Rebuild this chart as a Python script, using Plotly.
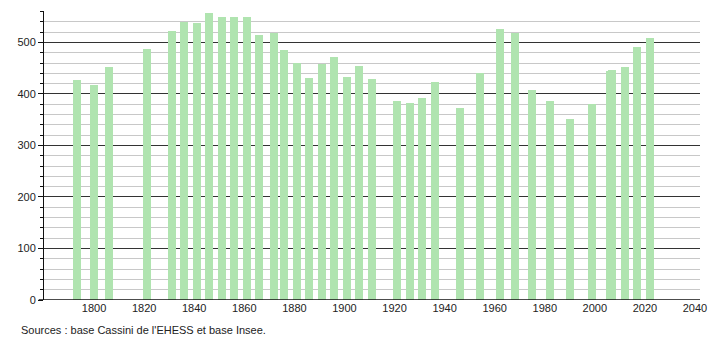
import plotly.graph_objects as go

years = [1793, 1800, 1806, 1821, 1831, 1836, 1841, 1846, 1851, 1856, 1861, 1866, 1872,
         1876, 1881, 1886, 1891, 1896, 1901, 1906, 1911, 1921, 1926, 1931, 1936, 1946,
         1954, 1962, 1968, 1975, 1982, 1990, 1999, 2006, 2007, 2012, 2017, 2022]
population = [427, 417, 452, 487, 522, 540, 538, 557, 550, 550, 550, 515, 518,
              485, 461, 431, 458, 472, 433, 454, 429, 386, 382, 392, 423, 373,
              441, 526, 518, 408, 386, 351, 381, 444, 446, 452, 491, 509]
x_ticks = [1800, 1820, 1840, 1860, 1880, 1900, 1920, 1940, 1960, 1980, 2000, 2020, 2040]
y_ticks = [0, 100, 200, 300, 400, 500]
source_text = "Sources : base Cassini de l'EHESS et base Insee."

fig = go.Figure(go.Bar(
    x=years, y=population, width=3.2,
    marker=dict(color="#b0e4b0", line=dict(width=0)),
    hoverinfo="x+y",
))

fig.update_layout(
    width=710, height=340,
    margin=dict(l=44, r=10, t=11, b=40, autoexpand=False),
    paper_bgcolor="white", plot_bgcolor="white",
    font=dict(family="Liberation Sans, Arial, sans-serif", size=11, color="#222"),
    showlegend=False,
    bargap=0,
    xaxis=dict(
        range=[1780, 2042], tickvals=x_ticks, ticks="", showgrid=False,
        showline=False, zeroline=False, tickfont=dict(size=11), automargin=False,
    ),
    yaxis=dict(
        range=[0, 561], tickvals=y_ticks, showgrid=True, gridcolor="#333333", gridwidth=1,
        ticks="outside", ticklen=5, tickcolor="#111", tickwidth=1,
        showline=True, linecolor="#111", linewidth=1,
        zeroline=False, tickfont=dict(size=11), automargin=False,
        minor=dict(dtick=20, showgrid=True, gridcolor="#c8c8c8", gridwidth=1,
                   ticks="outside", ticklen=3, tickcolor="#111"),
    ),
    shapes=[dict(type="line", xref="paper", yref="y", x0=-0.008, x1=1, y0=0, y1=0,
                 line=dict(color="#111", width=1.5))],
    annotations=[dict(text=source_text, xref="paper", yref="paper", x=-0.038, y=-0.077,
                      xanchor="left", yanchor="top", showarrow=False,
                      font=dict(size=11, color="#222"))],
)

fig.write_html("out.html")
